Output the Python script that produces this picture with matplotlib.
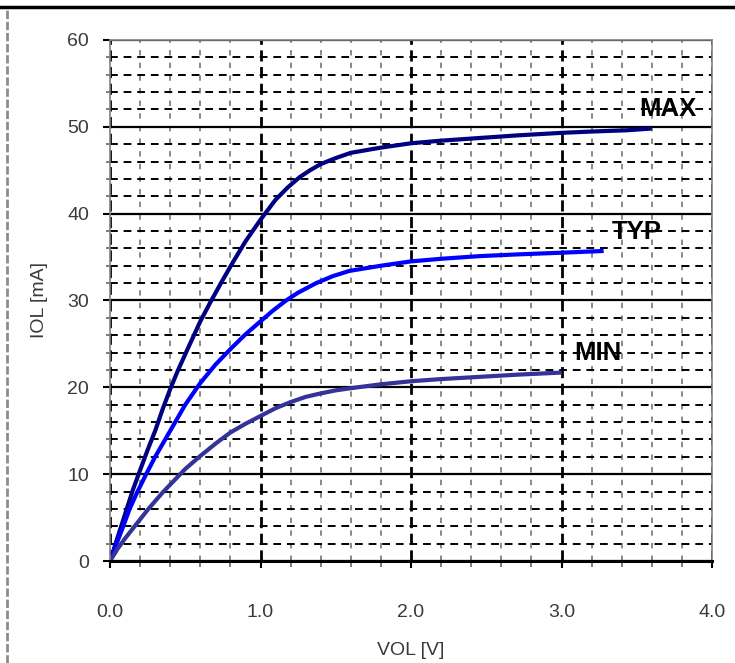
#generic imports
import numpy as np
import matplotlib
matplotlib.use('Agg')
import matplotlib.pyplot as plt
from matplotlib.lines import Line2D

#----------------------------------------------------------------------
# output characteristics IOL vs VOL
vol_max = [0, 0.05, 0.1, 0.15, 0.19, 0.25, 0.3, 0.35, 0.4, 0.45, 0.51, 0.6, 0.67, 0.75, 0.82, 0.9,
           1.0, 1.1, 1.18, 1.26, 1.33, 1.4, 1.5, 1.6, 1.8, 2.0, 2.2, 2.45, 2.7, 3.0, 3.2, 3.44, 3.6]
iol_max = [0, 2.7, 5.4, 8.1, 10.0, 12.8, 15.0, 17.5, 19.8, 21.9, 24.2, 27.6, 29.9, 32.4, 34.5, 36.8,
           39.3, 41.6, 43.0, 44.2, 45.0, 45.7, 46.4, 47.0, 47.6, 48.1, 48.4, 48.7, 49.0, 49.3, 49.45, 49.6, 49.8]

vol_typ = [0, 0.05, 0.09, 0.13, 0.18, 0.24, 0.3, 0.35, 0.4, 0.5, 0.6, 0.7, 0.8, 0.9, 1.0, 1.08,
           1.17, 1.25, 1.37, 1.48, 1.59, 1.8, 2.0, 2.2, 2.45, 2.7, 3.0, 3.28]
iol_typ = [0, 2.3, 4.1, 6.0, 7.9, 10.0, 12.0, 13.5, 15.0, 18.0, 20.5, 22.6, 24.4, 26.1, 27.6, 28.8,
           30.0, 30.9, 32.0, 32.8, 33.4, 34.0, 34.5, 34.8, 35.1, 35.3, 35.5, 35.7]

vol_min = [0, 0.05, 0.1, 0.15, 0.2, 0.25, 0.3, 0.35, 0.4, 0.45, 0.5, 0.6, 0.7, 0.8, 0.9, 1.0,
           1.1, 1.2, 1.3, 1.4, 1.5, 1.6, 1.8, 2.0, 2.2, 2.45, 2.7, 3.0]
iol_min = [0, 1.4, 2.6, 3.7, 4.8, 5.9, 6.9, 7.9, 8.8, 9.7, 10.6, 12.1, 13.5, 14.8, 15.8, 16.7,
           17.6, 18.3, 18.9, 19.3, 19.65, 19.9, 20.35, 20.7, 20.95, 21.2, 21.45, 21.7]

curve_names = ['MAX', 'TYP', 'MIN']
curve_colors = ['#000080', '#0000ff', '#333399']
# label anchor (V, mA) for each curve name
label_pos = [(3.71, 52.0), (3.50, 37.9), (3.24, 24.0)]

x_ticks = [0.0, 1.0, 2.0, 3.0, 4.0]
y_ticks = [0, 10, 20, 30, 40, 50, 60]

#----------------------------------------------------------------------
plt.rcParams['font.family'] = ['Liberation Sans', 'DejaVu Sans']

fig = plt.figure(figsize=(7.35, 6.63), dpi=100)
ax = fig.add_axes([0.1497, 0.1538, 0.819, 0.786])

#grid: solid majors on y, dashed minors, dashed verticals
ax.set_xlim(0, 4)
ax.set_ylim(0, 60)
ax.set_xticks(x_ticks)
ax.set_xticklabels(['%.1f' % v for v in x_ticks])
ax.set_yticks(y_ticks)
ax.set_xticks(np.arange(0, 4.01, 0.2), minor=True)
ax.set_yticks(np.arange(0, 60.1, 2), minor=True)
ax.set_axisbelow(True)
ax.grid(which='major', axis='y', color='k', linewidth=1.6, linestyle='-')
ax.grid(which='minor', axis='y', color='k', linewidth=1.4, linestyle=(0, (4, 3)))
ax.grid(which='major', axis='x', color='k', linewidth=2.0, linestyle=(0, (4, 2)))
ax.grid(which='minor', axis='x', color='0.5', linewidth=1.3, linestyle=(0, (3, 4)))

#curves
for vol, iol, col in zip([vol_max, vol_typ, vol_min], [iol_max, iol_typ, iol_min], curve_colors):
    ax.plot(vol, iol, color=col, linewidth=3.0, solid_joinstyle='round', solid_capstyle='butt')

for name, (xv, yv) in zip(curve_names, label_pos):
    ax.text(xv, yv, name, fontsize=18.5, fontweight='bold', color='k', ha='center', va='center')

#axes styling
for side in ['left', 'top', 'right']:
    ax.spines[side].set_color('0.5')
    ax.spines[side].set_linewidth(1.2)
ax.spines['bottom'].set_color('k')
ax.spines['bottom'].set_linewidth(2.2)

ax.tick_params(axis='x', which='major', direction='out', length=5, width=1.5, color='k',
               pad=26, labelsize=14, labelcolor='#3a3a3a')
ax.tick_params(axis='x', which='minor', direction='out', length=4, width=1.2, color='0.4')
ax.tick_params(axis='y', which='major', direction='out', length=5, width=1.5, color='k',
               pad=10, labelsize=14, labelcolor='#3a3a3a')
ax.tick_params(axis='y', which='minor', direction='out', length=3, width=1.2, color='0.4')

ax.set_xlabel('VOL [V]', fontsize=14, color='#3a3a3a', labelpad=15)
ax.set_ylabel('IOL [mA]', fontsize=14, color='#3a3a3a', labelpad=14)

#frame around the picture (top black rule, dashed grey left edge)
fig.add_artist(Line2D([0, 1], [1 - 7 / 663, 1 - 7 / 663], color='k', linewidth=2.5,
                      transform=fig.transFigure))
fig.add_artist(Line2D([7 / 735, 7 / 735], [0, 1 - 9 / 663], color='0.55', linewidth=2,
                      linestyle=(0, (3, 1)), transform=fig.transFigure))

plt.savefig('out.png', dpi=100)
